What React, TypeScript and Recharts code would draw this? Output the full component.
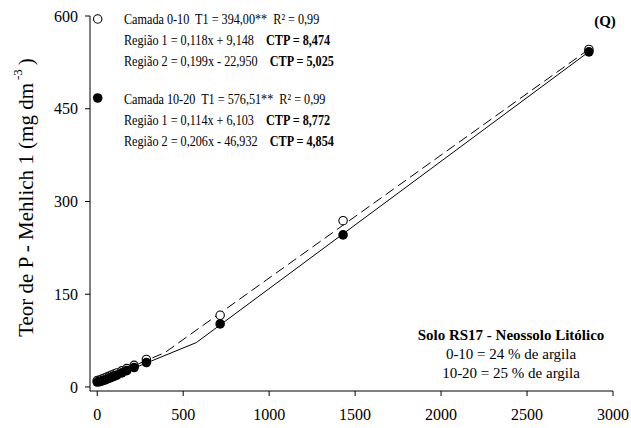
import React from "react";
import { ComposedChart, XAxis, YAxis, Line, Scatter } from "recharts";

// P doses applied (x) and P contents measured in each soil layer
const doses = [0, 14.3, 28.6, 42.9, 57.2, 71.5, 85.8, 100.1, 114.4, 143, 171.6, 214.5, 286, 715, 1430, 2860];
const layer0to10 = [10.5, 11.2, 12.8, 14.5, 16.0, 17.6, 19.3, 21.0, 22.8, 26.2, 29.8, 35.0, 44.5, 116, 269, 546];
const layer10to20 = [8.0, 8.6, 9.8, 11.3, 12.6, 14.3, 16.0, 17.6, 19.4, 22.8, 26.4, 31.5, 39.5, 102, 246, 542];

// Segmented linear fits: region 1 up to T1, region 2 after it
const fit0to10 = { t1: 394.0, a1: 0.118, b1: 9.148, a2: 0.199, b2: -22.95 };
const fit10to20 = { t1: 576.51, a1: 0.114, b1: 6.103, a2: 0.206, b2: -46.932 };

const xTicks = [0, 500, 1000, 1500, 2000, 2500, 3000];
const yTicks = [0, 150, 300, 450, 600];

const legend0to10 = [
  ["Camada 0-10  T1 = 394,00**  R\u00B2 = 0,99", ""],
  ["Regi\u00E3o 1 = 0,118x + 9,148", "CTP = 8,474"],
  ["Regi\u00E3o 2 = 0,199x - 22,950", "CTP = 5,025"],
];
const legend10to20 = [
  ["Camada 10-20  T1 = 576,51**  R\u00B2 = 0,99", ""],
  ["Regi\u00E3o 1 = 0,114x + 6,103", "CTP = 8,772"],
  ["Regi\u00E3o 2 = 0,206x - 46,932", "CTP = 4,854"],
];
const soilLines = ["Solo RS17 - Neossolo Lit\u00F3lico", "0-10 = 24 % de argila", "10-20 = 25 % de argila"];

const FONT = "'Liberation Serif', 'Times New Roman', serif";

const toPoints = (ys: number[]) => doses.map((x, i) => ({ x, y: ys[i] }));

const fitLine = (f: typeof fit0to10) => {
  const xEnd = doses[doses.length - 1];
  return [
    { x: 0, y: f.b1 },
    { x: f.t1, y: f.a1 * f.t1 + f.b1 },
    { x: xEnd, y: f.a2 * xEnd + f.b2 },
  ];
};

const OpenDot = (p: any) => (
  <circle cx={p.cx} cy={p.cy} r={4.2} fill="#fff" stroke="#000" strokeWidth={1.1} />
);
const FilledDot = (p: any) => <circle cx={p.cx} cy={p.cy} r={4.8} fill="#000" />;

const LegendBlock = ({ y, rows, filled }: { y: number; rows: string[][]; filled: boolean }) => (
  <g fontFamily={FONT} fontSize={14} fill="#000">
    {filled ? (
      <circle cx={97.7} cy={y - 6} r={4.8} fill="#000" />
    ) : (
      <circle cx={97.7} cy={y - 5} r={4.2} fill="#fff" stroke="#000" strokeWidth={1.1} />
    )}
    <g transform="translate(124,0) scale(0.87,1)">
      {rows.map((r, i) => (
        <text key={i} x={0} y={y + i * 21} xmlSpace="preserve">
          {r[0]}
          {r[1] ? (
            <tspan dx={14} fontWeight="bold">
              {r[1]}
            </tspan>
          ) : null}
        </text>
      ))}
    </g>
  </g>
);

export default function App() {
  return (
    <div style={{ position: "absolute", left: 0, top: 0, background: "#fff" }}>
      <ComposedChart
        width={631}
        height={428}
        margin={{ top: 16, right: 18, bottom: 0, left: 0 }}
      >
        <XAxis
          type="number"
          dataKey="x"
          domain={[-42, 3000]}
          ticks={xTicks}
          allowDataOverflow
          height={37}
          tickSize={5}
          tickMargin={13}
          stroke="#000"
          tick={{ fill: "#000", fontFamily: FONT, fontSize: 16 }}
        />
        <YAxis
          type="number"
          dataKey="y"
          domain={[-6.5, 600]}
          ticks={yTicks}
          allowDataOverflow
          width={90}
          tickSize={5}
          tickMargin={7}
          stroke="#000"
          tick={{ fill: "#000", fontFamily: FONT, fontSize: 16 }}
          label={(props: any) => {
            const vb = props.viewBox;
            const cx = 26;
            const cy = vb.y + vb.height / 2 - 6;
            return (
              <text
                x={cx}
                y={cy}
                transform={`rotate(-90, ${cx}, ${cy})`}
                textAnchor="middle"
                dominantBaseline="central"
                fontFamily={FONT}
                fontSize={21}
                fill="#000"
              >
                Teor de P - Mehlich 1 (mg dm
                <tspan fontSize={13} dy={-9} dx={3}>-3</tspan>
                <tspan dy={9} dx={4}>)</tspan>
              </text>
            );
          }}
        />
        <Line
          data={fitLine(fit0to10)}
          dataKey="y"
          stroke="#000"
          strokeWidth={1}
          strokeDasharray="10 5"
          dot={false}
          activeDot={false}
          isAnimationActive={false}
        />
        <Line
          data={fitLine(fit10to20)}
          dataKey="y"
          stroke="#000"
          strokeWidth={1}
          dot={false}
          activeDot={false}
          isAnimationActive={false}
        />
        <Scatter data={toPoints(layer0to10)} dataKey="y" shape={OpenDot} isAnimationActive={false} />
        <Scatter data={toPoints(layer10to20)} dataKey="y" shape={FilledDot} isAnimationActive={false} />
        <LegendBlock y={24} rows={legend0to10} filled={false} />
        <LegendBlock y={104} rows={legend10to20} filled={true} />
        <text x={605} y={26} textAnchor="middle" fontFamily={FONT} fontSize={15} fontWeight="bold" fill="#000">
          (Q)
        </text>
        <g fontFamily={FONT} fontSize={15} fill="#000" textAnchor="middle">
          {soilLines.map((s, i) => (
            <text key={i} x={511} y={340 + i * 19} fontWeight={i === 0 ? "bold" : "normal"}>
              {s}
            </text>
          ))}
        </g>
      </ComposedChart>
    </div>
  );
}
